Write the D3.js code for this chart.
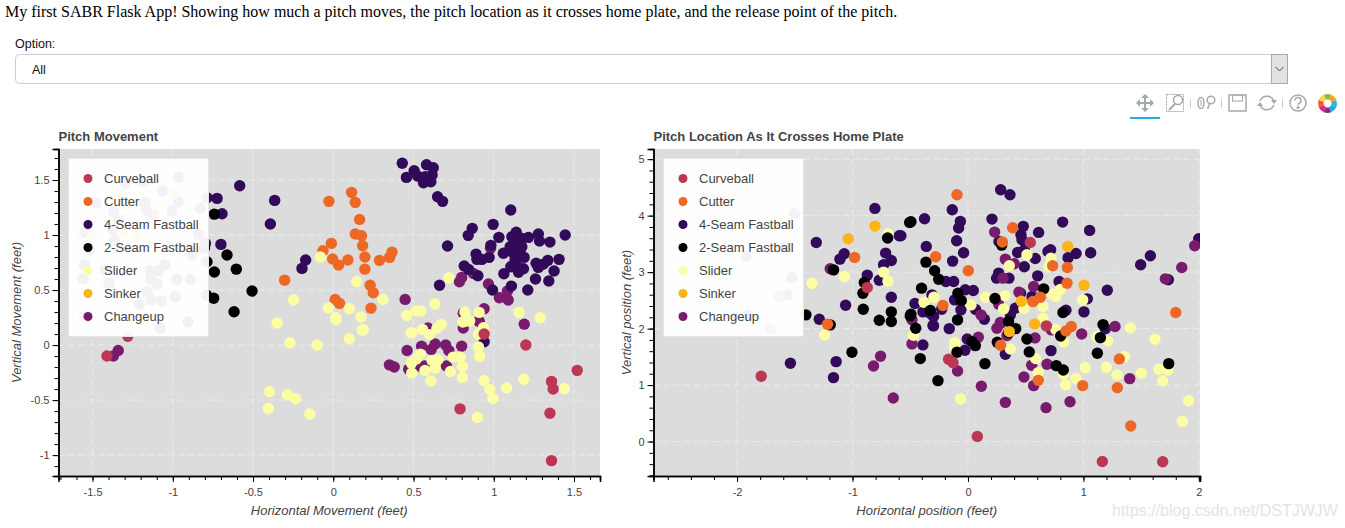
<!DOCTYPE html>
<html>
<head>
<meta charset="utf-8">
<title>My first SABR Flask App</title>
<script src="https://cdn.jsdelivr.net/npm/d3@7"></script>
<style>
  html, body { margin: 0; padding: 0; background: #fff; overflow: hidden; }
  svg { display: block; }
  text { font-family: "Liberation Sans", Arial, sans-serif; }
</style>
</head>
<body>
<div id="chart"></div>
<script>
'use strict';

var pitchNames = ['Curveball', 'Cutter', '4-Seam Fastball', '2-Seam Fastball', 'Slider', 'Sinker', 'Changeup'];
var pitchColors = ['#BB3754', '#EC6824', '#320A5A', '#000003', '#FCFEA4', '#FBB41A', '#781B6D'];

// pitch movement, [horizontal, vertical] in feet
var moveCurveball = [[-1.41,-0.10],[-1.28,0.08],[0.79,-0.58],[1.20,0],[0.94,0.10],[1.36,-0.33],[1.37,-0.40],[1.52,-0.23],[1.35,-0.62],[1.36,-1.05],[-1.549,0.258]];
var moveCutter = [[0.114,1.388],[-0.027,1.306],[0.137,1.297],[0.164,1.142],[0.137,1.009],[0.176,0.994],[0.183,0.903],[-0.012,0.924],[-0.064,0.857],[-0.004,0.782],[0.033,0.727],[0.091,0.773],[0.197,0.80],[0.197,0.69],[0.288,0.77],[0.351,0.797],[0.366,0.845],[0.23,0.543],[0.249,0.476],[0.012,0.415],[0.039,0.379],[0.235,0.336],[-0.303,0.59]];
var moveFourSeam = [[-0.583,1.448],[-0.365,1.315],[-0.724,1.333],[-0.787,1.34],[-0.693,1.194],[-0.392,1.10],[-0.70,0.915],[-0.797,0.924],[-0.172,0.773],[-0.195,0.697],
  [-0.963,1.525],[-1.181,1.485],[-1.295,1.473],[-1.063,1.40],[-1.175,1.294],[-0.965,1.303],[-1.476,1.288],[-1.164,1.227],[-1.368,1.212],[-1.004,1.221],[-0.828,1.243],[-1.337,1.136],[-1.368,1.045],[-1.549,1.024],[-0.839,1.006],[-1.362,0.955],
  [0.43,1.652],[0.504,1.585],[0.456,1.524],[0.581,1.639],[0.623,1.612],[0.616,1.545],[0.525,1.536],[0.562,1.475],[0.608,1.485],[0.573,1.53],[0.65,1.348],[0.681,1.306],[1.106,1.227],[0.996,1.097],[0.866,1.061],[0.841,0.997],[0.712,0.90],[1.032,0.979],[0.982,0.906],[1.14,1.025],[1.113,0.985],[1.175,0.97],[1.216,0.979],[1.278,1.009],[1.285,0.945],[1.35,0.936],[1.445,1.0],[1.144,0.924],[1.102,0.894],[1.175,0.894],[1.06,0.834],[1.123,0.834],[1.164,0.848],[1.133,0.773],[1.189,0.797],[0.89,0.827],[0.895,0.779],[0.926,0.779],[0.971,0.797],[0.816,0.718],[0.843,0.688],[0.901,0.63],[0.662,0.543],[0.992,0.50],[1.11,0.536],[1.212,0.50],[1.26,0.60],[1.343,0.582],[1.376,0.673],[1.407,0.779],[1.337,0.77],[1.31,0.736],[1.264,0.743],[1.278,0.706],[1.063,0.648],[1.106,0.712],[1.154,0.661],[1.185,0.694],[1.144,0.718],[0.94,0.03]];
var moveTwoSeam = [[-0.741,1.19],[-0.662,0.818],[-0.604,0.69],[-0.741,0.664],[-0.787,0.757],[-0.506,0.491],[-0.745,0.425],[-0.79,0.455],[-0.618,0.303],
  [-0.803,0.879],[-0.88,0.818],[-1.517,0.864],[-1.55,0.727],[-1.05,0.727],[-1.14,0.676],[-1.088,0.676],[-1.559,0.606],[-1.42,0.682],[-1.135,0.597],[-0.973,0.597],[-0.89,0.597],[-1.397,0.561],[-1.098,0.555],[-1.16,0.485],[-0.984,0.439],[-1.135,0.409],[-1.071,0.40],[-1.208,0.37],[-0.905,0.212],[-1.077,0.152]];
var moveSlider = [[-0.08,0.80],[0.72,0.61],[0.147,0.575],[0.31,0.415],[-0.03,0.34],[0.10,0.33],[0.172,0.255],[0.015,0.25],[0.18,0.136],[0.633,0.373],[0.517,0.31],[0.546,0.31],[0.459,0.27],[0.82,0.30],[0.909,0.297],[0.807,0.21],[0.843,0.22],[1.158,0.297],[1.289,0.248],[0.672,0.188],[0.646,0.152],[0.556,0.143],[0.484,0.112],[0.936,0.157],[-0.247,0.41],
  [-0.35,0.20],[-0.27,0.02],[-0.10,0],[0.10,0.058],[0.187,0.14],[0.017,0.23],[0.49,0.11],[0.60,0.094],[0.815,0.215],[0.85,0.22],[0.905,0.10],[0.905,-0.018],[0.912,-0.103],[0.543,-0.082],[0.518,-0.127],[0.487,-0.164],[0.489,-0.255],[0.572,-0.23],[0.635,-0.21],[0.616,-0.14],[0.652,-0.133],[0.608,-0.327],[0.73,-0.24],[0.747,-0.11],[0.79,-0.11],[0.805,-0.194],[0.805,-0.294],[0.94,-0.324],[0.976,-0.403],[0.995,-0.485],[1.08,-0.39],[1.187,-0.31],[1.44,-0.397],[0.898,-0.658],[-0.397,-0.424],[-0.285,-0.452],[-0.234,-0.488],[-0.404,-0.576],[-0.146,-0.627]];
var moveSinker = [[-0.994,1.373],[-1.316,1.364],[-1.306,1.273],[-1.503,0.99],[-1.316,1.015],[-1.227,1.009]];
var moveChangeup = [[-1.37,-0.10],[-1.34,-0.05],[0.46,-0.05],[0.55,-0.01],[0.61,-0.04],[0.635,0.01],[0.70,0],[0.72,-0.05],[0.80,-0.01],[0.35,-0.18],[0.38,-0.20],[0.47,-0.22],[0.535,-0.19],[0.57,-0.19],[0.705,-0.19],[0.59,0.155],[0.81,0.155],[0.91,0.215],[1.19,0.19],
  [0.448,0.415],[0.80,0.615],[0.786,0.575],[0.874,0.65],[0.98,0.88],[0.967,0.555],[1.035,0.43],[1.09,0.41],[1.085,0.49],[0.94,0.33],[0.81,0.29],[0.905,0.22],[-1.123,1.182]];

// pitch location, [horizontal, vertical] in feet
var spotCurveball = [[-1.791,1.155],[0.081,0.091],[1.164,-0.352],[1.687,-0.358],[-0.168,1.457],[-0.13,1.398],[0.679,2.048],[-0.872,2.727],[0.54,3.526],[-1.635,2.562],[-1.713,1.99]];
var spotCutter = [[-0.982,3.26],[-1.216,2.078],[1.41,0.275],[0.994,0.99],[1.294,0.954],[1.311,1.463],[0.609,1.084],[0.283,1.705],[0.849,1.959],[0.895,2.036],[-0.095,4.37],[0.387,3.785],[0.298,3.532],[-0.28,3.271],[0.003,3.023],[0.734,3.112],[0.861,3.082],[0.858,2.804],[0.627,2.556],[0.563,2.48],[-0.217,2.408],[1.8,2.284]];
var spotFourSeam = [[-1.314,3.525],[-0.806,4.128],[-1.072,3.325],[-1.109,3.23],[-0.595,3.644],[-0.713,3.337],[-0.664,3.206],[-0.731,3.13],[-0.872,2.947],[-0.768,2.857],[-0.664,2.556],[-1.06,2.414],[-1.288,2.166],[-1.502,4.04],[-1.918,3.283],[-1.525,2.905],[-1.568,2.597],[-1.906,2.231],[-1.577,3.455],[-1.538,1.386],[-1.142,1.415],[-1.165,1.132],
  [0.719,1.61],[0.324,1.545],[-0.026,1.616],[-0.39,1.711],[-0.303,2.054],[-0.162,2.0],[-0.006,1.817],[1.19,2.0],
  [0.283,4.459],[0.364,4.37],[-0.136,4.104],[-0.376,3.945],[-0.066,3.898],[-0.081,3.78],[0.208,3.939],[0.82,3.886],[1.054,3.739],[0.612,3.703],[0.479,3.81],[0.459,3.662],[0.468,3.572],[0.269,3.543],[-0.098,3.555],[-0.361,3.455],[-0.581,3.644],[-0.038,3.343],[-0.133,3.195],[0.43,3.348],[0.488,3.395],[0.583,3.242],[0.488,3.094],[0.693,3.366],[0.716,3.395],[0.867,3.254],[0.936,3.33],[1.063,3.342],[1.58,3.289],[1.496,3.13],[1.736,2.864],[1.999,3.59],[0.604,2.934],[0.266,2.982],[0.248,2.893],[0.355,2.893],[-0.191,2.834],[-0.124,2.834],[-0.023,2.687],[0.046,2.674],[-0.312,2.597],[-0.116,2.509],[-0.459,2.444],[-0.061,2.332],[0.066,2.337],[-0.39,2.296],[-0.326,2.272],[-0.228,2.343],[-0.298,2.213],[0.142,2.166],[-0.298,2.048],[0.41,2.361],[0.367,2.243],[0.456,2.627],[0.555,2.568],[0.604,2.538],[0.789,2.834],[1.207,2.68],[1.034,2.527],[1.005,2.296],[0.849,2.325]];
var spotTwoSeam = [[-0.505,3.88],[-0.696,3.603],[-1.164,3.04],[-0.898,2.816],[-0.91,2.627],[-0.907,2.343],[-0.768,2.149],[-0.664,2.126],[-0.664,2.296],[-1.404,2.243],[-1.193,2.066],[-0.5,2.225],[-1.005,1.581],
  [-0.413,1.469],[-0.26,1.079],[0.147,1.38],[0.064,1.699],[-0.095,1.581],[0.035,1.77],[0.254,1.758],[0.531,1.587],[0.511,1.817],[0.413,2.0],[0.352,1.929],[0.803,1.87],[0.765,1.344],[0.826,1.268],[1.121,1.563],[1.147,1.84],[1.17,2.071],[1.739,1.38],[-0.453,2.006],[-0.09,2.154],[0.352,2.125],
  [-0.494,3.892],[0.292,3.478],[-0.364,3.177],[-0.289,3.023],[-0.254,2.875],[-0.402,2.716],[-0.087,2.627],[-0.058,2.497],[0.656,2.704],[0.234,2.533],[-0.494,2.255],[-0.326,2.32],[0.823,2.285]];
var spotSlider = [[-0.693,3.68],[-0.731,3.0],[-0.693,2.84],[-1.069,2.917],[-1.352,2.804],[-1.242,1.888],[-1.41,2.24],
  [1.912,0.724],[1.857,0.358],[-0.064,0.753],[1.687,1.073],[1.73,1.268],[1.652,1.28],[1.502,1.209],[1.291,1.179],[1.199,1.315],[1.355,1.504],[1.62,1.812],[1.407,2.012],[1.21,1.782],[1.118,1.859],[1.017,1.309],[0.936,1.114],[0.846,1.002],[0.829,1.197],[0.609,1.22],[0.586,1.469],[0.829,1.764],[0.76,1.989],[0.367,1.64],[-0.116,1.752],[-0.116,1.67],[-0.471,1.882],
  [0.511,3.307],[0.719,3.248],[0.702,3.1],[0.358,3.112],[0.153,2.556],[0.321,2.58],[0.026,2.42],[0.309,2.349],[0.485,2.355],[0.65,2.391],[0.65,2.184],[-0.295,2.556],[-0.381,2.467],[0.731,2.609],[0.76,2.568],[0.8,2.692],[0.994,2.509]];
var spotSinker = [[-0.806,3.815],[-1.037,3.59],[0.578,2.083],[0.358,1.947],[0.864,3.455],[1.005,2.769],[0.462,2.485]];
var spotChangeup = [[-1.193,3.059],[-0.485,2.155],[-0.757,1.51],[-0.818,1.339],[-0.647,0.771],[-0.485,1.729],
  [0.884,0.706],[0.676,0.6],[0.324,0.694],[0.116,0.978],[-0.09,1.25],[0.485,1.144],[0.569,0.99],[0.552,1.35],[0.685,1.368],[1.401,1.114],[0.09,1.847],[0.338,1.877],[0.581,1.835],[0.722,1.977],[0.985,1.905],[1.274,2.036],[0.251,2.006],[0.283,2.094],
  [0.231,3.709],[0.324,3.23],[0.401,3.147],[0.303,2.893],[0.442,2.645],[0.569,2.745],[0.266,2.433],[0.113,2.243],[0.28,2.107],[1.964,3.467],[1.852,3.082],[1.71,2.881]];

// tick labels
var moveXTicks = [-1.5, -1, -0.5, 0, 0.5, 1, 1.5];
var moveYTicks = [-1, -0.5, 0, 0.5, 1, 1.5];
var spotXTicks = [-2, -1, 0, 1, 2];
var spotYTicks = [0, 1, 2, 3, 4, 5];

var introText = 'My first SABR Flask App! Showing how much a pitch moves, the pitch location as it crosses home plate, and the release point of the pitch.';

var width = 1345;
var height = 528;
var pointRadius = 5.7;

var svg = d3.select('#chart').append('svg')
  .attr('width', width)
  .attr('height', height);

// multiples of step inside the domain, for the unlabelled ticks
function minorTicks(domain, step) {
  var out = [];
  var k = Math.ceil(domain[0] / step - 1e-6);
  for (; k * step <= domain[1] + 1e-6; k++) {
    out.push(+(k * step).toFixed(3));
  }
  return out;
}

function drawPanel(opts) {
  var box = opts.box;
  var x = d3.scaleLinear().domain(opts.xDomain).range([box.left, box.right]);
  var y = d3.scaleLinear().domain(opts.yDomain).range([box.bottom, box.top]);
  var clipId = 'clip-' + opts.id;

  svg.append('clipPath').attr('id', clipId).append('rect')
    .attr('x', box.left)
    .attr('y', box.top)
    .attr('width', box.right - box.left)
    .attr('height', box.bottom - box.top);

  svg.append('rect')
    .attr('x', box.left)
    .attr('y', box.top)
    .attr('width', box.right - box.left)
    .attr('height', box.bottom - box.top)
    .attr('fill', '#dcdcdc');

  // dashed grid
  var grid = svg.append('g')
    .attr('stroke', '#ebebeb')
    .attr('stroke-width', 1)
    .attr('stroke-dasharray', '6,4');
  grid.selectAll('line.v').data(opts.xTicks).enter().append('line')
    .attr('class', 'v')
    .attr('x1', function(d) { return x(d); })
    .attr('x2', function(d) { return x(d); })
    .attr('y1', box.top)
    .attr('y2', box.bottom);
  grid.selectAll('line.h').data(opts.yTicks).enter().append('line')
    .attr('class', 'h')
    .attr('y1', function(d) { return y(d); })
    .attr('y2', function(d) { return y(d); })
    .attr('x1', box.left)
    .attr('x2', box.right);

  // points
  var marks = svg.append('g').attr('clip-path', 'url(#' + clipId + ')');
  opts.series.forEach(function(s) {
    marks.append('g').selectAll('circle').data(s.values).enter().append('circle')
      .attr('cx', function(d) { return x(d[0]); })
      .attr('cy', function(d) { return y(d[1]); })
      .attr('r', pointRadius)
      .attr('fill', pitchColors[s.kind]);
  });

  // axes
  var xAxisMinor = d3.axisBottom(x).tickValues(minorTicks(opts.xDomain, opts.xMinor)).tickSize(4).tickFormat('');
  var yAxisMinor = d3.axisLeft(y).tickValues(minorTicks(opts.yDomain, opts.yMinor)).tickSize(4).tickFormat('');
  var xAxis = d3.axisBottom(x).tickValues(opts.xTicks).tickSize(6).tickPadding(6.5).tickFormat(String);
  var yAxis = d3.axisLeft(y).tickValues(opts.yTicks).tickSize(6).tickPadding(3).tickFormat(String);

  [xAxisMinor, xAxis].forEach(function(axis) {
    svg.append('g').attr('class', 'axis')
      .attr('transform', 'translate(0,' + box.bottom + ')')
      .call(axis);
  });
  [yAxisMinor, yAxis].forEach(function(axis) {
    svg.append('g').attr('class', 'axis')
      .attr('transform', 'translate(' + box.left + ',0)')
      .call(axis);
  });
  svg.selectAll('.axis .domain').attr('stroke', '#000').attr('stroke-width', 1.5);
  svg.selectAll('.axis .tick line').attr('stroke', '#000');
  svg.selectAll('.axis text')
    .attr('fill', '#444')
    .style('font-size', '11px')
    .style('font-family', '"Liberation Sans", Arial, sans-serif');

  // titles
  svg.append('text')
    .attr('x', box.left)
    .attr('y', 140.5)
    .attr('fill', '#444')
    .style('font-size', '13px')
    .style('font-weight', 'bold')
    .text(opts.title);
  svg.append('text')
    .attr('x', (box.left + box.right) / 2)
    .attr('y', 514.5)
    .attr('text-anchor', 'middle')
    .attr('fill', '#444')
    .style('font-size', '13px')
    .style('font-style', 'italic')
    .text(opts.xLabel);
  svg.append('text')
    .attr('transform', 'translate(' + opts.yLabelX + ',' + ((box.top + box.bottom) / 2) + ') rotate(-90)')
    .attr('text-anchor', 'middle')
    .attr('fill', '#444')
    .style('font-size', '13px')
    .style('font-style', 'italic')
    .text(opts.yLabel);

  // legend
  var lx = box.left + 10;
  var ly = box.top + 9.5;
  svg.append('rect')
    .attr('x', lx)
    .attr('y', ly)
    .attr('width', 140)
    .attr('height', 178)
    .attr('fill', '#fff')
    .attr('fill-opacity', 0.95)
    .attr('stroke', '#e6e6e6');
  var rows = svg.append('g').selectAll('g').data(pitchNames).enter().append('g')
    .attr('transform', function(d, i) {
      return 'translate(' + (lx + 19.5) + ',' + (ly + 20 + i * 23) + ')';
    });
  rows.append('circle')
    .attr('r', 4.5)
    .attr('fill', function(d, i) { return pitchColors[i]; });
  rows.append('text')
    .attr('x', 16)
    .attr('y', 4.5)
    .attr('fill', '#444')
    .style('font-size', '13px')
    .text(function(d) { return d; });
}

// page header and the select box
svg.append('text')
  .attr('x', 5)
  .attr('y', 17)
  .attr('fill', '#000')
  .style('font-family', '"Liberation Serif", "Times New Roman", serif')
  .style('font-size', '16px')
  .text(introText);
svg.append('text')
  .attr('x', 15)
  .attr('y', 48)
  .attr('fill', '#111')
  .style('font-size', '12.5px')
  .text('Option:');
svg.append('rect')
  .attr('x', 15.5)
  .attr('y', 54.5)
  .attr('width', 1272)
  .attr('height', 29)
  .attr('rx', 4)
  .attr('fill', '#fff')
  .attr('stroke', '#ccc');
svg.append('rect')
  .attr('x', 1271.5)
  .attr('y', 54.5)
  .attr('width', 16)
  .attr('height', 29)
  .attr('fill', '#e2e2e2')
  .attr('stroke', '#aaa');
svg.append('path')
  .attr('d', 'M1275.5 67 L1279.5 71 L1283.5 67')
  .attr('fill', 'none')
  .attr('stroke', '#444');
svg.append('text')
  .attr('x', 32)
  .attr('y', 74)
  .attr('fill', '#111')
  .style('font-size', '12.5px')
  .text('All');

drawPanel({
  id: 'move',
  box: { left: 58.5, right: 600, top: 149, bottom: 476 },
  xDomain: [-1.712, 1.662],
  yDomain: [-1.19, 1.782],
  xTicks: moveXTicks,
  yTicks: moveYTicks,
  xMinor: 0.1,
  yMinor: 0.1,
  title: 'Pitch Movement',
  xLabel: 'Horizontal Movement (feet)',
  yLabel: 'Vertical Movement (feet)',
  yLabelX: 21,
  series: [
    { kind: 6, values: moveChangeup },
    { kind: 2, values: moveFourSeam },
    { kind: 3, values: moveTwoSeam },
    { kind: 1, values: moveCutter },
    { kind: 4, values: moveSlider },
    { kind: 5, values: moveSinker },
    { kind: 0, values: moveCurveball }
  ]
});

drawPanel({
  id: 'spot',
  box: { left: 653.5, right: 1200, top: 149, bottom: 476 },
  xDomain: [-2.724, 2.01],
  yDomain: [-0.61, 5.18],
  xTicks: spotXTicks,
  yTicks: spotYTicks,
  xMinor: 0.2,
  yMinor: 0.2,
  title: 'Pitch Location As It Crosses Home Plate',
  xLabel: 'Horizontal position (feet)',
  yLabel: 'Vertical position (feet)',
  yLabelX: 631,
  series: [
    { kind: 2, values: spotFourSeam },
    { kind: 6, values: spotChangeup },
    { kind: 4, values: spotSlider },
    { kind: 3, values: spotTwoSeam },
    { kind: 5, values: spotSinker },
    { kind: 1, values: spotCutter },
    { kind: 0, values: spotCurveball }
  ]
});

// toolbar, drawn roughly like the bokeh icons
var tools = svg.append('g')
  .attr('fill', 'none')
  .attr('stroke', '#a3a9ad')
  .attr('stroke-width', 1.5);

// pan
tools.append('path').attr('stroke-width', 2)
  .attr('d', 'M1137 103 H1153 M1145 95 V111');
tools.append('path').attr('fill', '#a3a9ad').attr('stroke', 'none')
  .attr('d', 'M1136 103 l4 -4 v8 z M1154 103 l-4 -4 v8 z M1145 94 l-4 4 h8 z M1145 112 l-4 -4 h8 z');
svg.append('rect')
  .attr('x', 1130)
  .attr('y', 117)
  .attr('width', 30)
  .attr('height', 2)
  .attr('fill', '#26aae1');

// box zoom
tools.append('rect')
  .attr('x', 1166.5).attr('y', 94.5).attr('width', 17).attr('height', 17)
  .attr('stroke-width', 1)
  .attr('stroke-dasharray', '2,1');
tools.append('circle').attr('cx', 1178).attr('cy', 100).attr('r', 4.5);
tools.append('path').attr('stroke-width', 2).attr('d', 'M1175 104 L1169 110');

// separators
[1190.5, 1221.5, 1282.5].forEach(function(sx) {
  tools.append('path').attr('stroke', '#ccc').attr('stroke-width', 1)
    .attr('d', 'M' + sx + ' 99 V108');
});

// wheel zoom
tools.append('ellipse').attr('cx', 1201).attr('cy', 103).attr('rx', 3).attr('ry', 5.5);
tools.append('path').attr('stroke-width', 1).attr('d', 'M1201 100 V106');
tools.append('circle').attr('cx', 1211).attr('cy', 100).attr('r', 3.8);
tools.append('path').attr('d', 'M1209.5 104 L1207.5 109');

// save
tools.append('rect').attr('x', 1229).attr('y', 95).attr('width', 17).attr('height', 16);
tools.append('rect').attr('x', 1232.5).attr('y', 95).attr('width', 10).attr('height', 6).attr('stroke-width', 1);

// reset
tools.append('path').attr('d', 'M1260 101 A7.5 7.5 0 0 1 1274 101');
tools.append('path').attr('d', 'M1274 105 A7.5 7.5 0 0 1 1260 105');
tools.append('path').attr('fill', '#a3a9ad').attr('stroke', 'none')
  .attr('d', 'M1271 100 h6 l-3 4 z M1257 106 h6 l-3 -4 z');

// help
tools.append('circle').attr('cx', 1298).attr('cy', 103).attr('r', 8);
tools.append('path').attr('d', 'M1295 100.5 A3 3 0 1 1 1298.5 103.5 V105');
tools.append('circle').attr('cx', 1298).attr('cy', 107.5).attr('r', 0.8).attr('fill', '#a3a9ad');

// logo
var logoColors = ['#f7a21b', '#2db7d5', '#26aae1', '#7a2a8f', '#e81f76', '#f25c29', '#ffd23f', '#7fc241'];
var logoArc = d3.arc().innerRadius(4).outerRadius(9.5);
svg.append('g')
  .attr('transform', 'translate(1327.5,103.5)')
  .selectAll('path').data(logoColors).enter().append('path')
  .attr('d', function(d, i) {
    return logoArc({ startAngle: i * Math.PI / 4 + 0.4, endAngle: (i + 1) * Math.PI / 4 + 0.4 });
  })
  .attr('fill', function(d) { return d; });

// watermark
svg.append('text')
  .attr('x', 1112)
  .attr('y', 516)
  .attr('fill', '#e4e4e4')
  .style('font-size', '16px')
  .text('https://blog.csdn.net/DSTJWJW');
</script>
</body>
</html>
